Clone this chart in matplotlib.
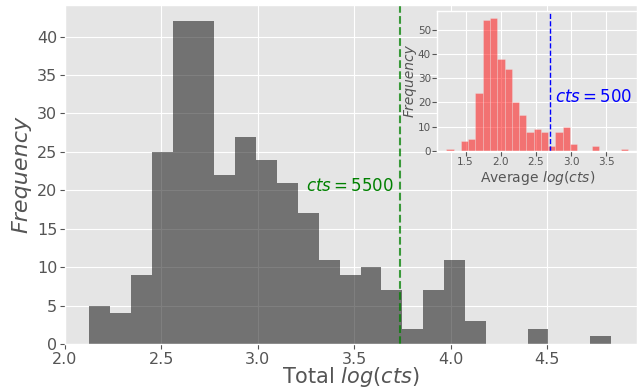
import matplotlib
matplotlib.use("Agg")
import matplotlib.pyplot as plt
import numpy as np

# total log(cts) histogram, 25 equal bins
total_lo, total_hi = 2.126, 4.833
total_counts = [5, 4, 9, 25, 42, 42, 22, 27, 24, 21, 17, 11, 9, 10, 7,
                2, 7, 11, 3, 0, 0, 2, 0, 0, 1]

# average log(cts) histogram, 25 equal bins
avg_lo, avg_hi = 1.227, 3.813
avg_counts = [1, 0, 4, 5, 24, 54, 55, 38, 34, 20, 15, 8, 9, 8, 2,
              8, 10, 3, 0, 0, 2, 0, 0, 0, 1]

total_cut = 5500
avg_cut = 500


def draw_hist(ax, lo, hi, counts, color, lw):
    edges = np.linspace(lo, hi, len(counts) + 1)
    ax.hist(edges[:-1], bins=edges, weights=counts, color=color, alpha=0.5,
            edgecolor='#EEEEEE', linewidth=lw)


plt.style.use('ggplot')
fig = plt.figure(figsize=(6.43, 3.91), dpi=100)

ax = fig.add_axes([0.101, 0.120, 0.890, 0.867])
draw_hist(ax, total_lo, total_hi, total_counts, 'k', 0)
ax.set_xlim(left=2.0)
ax.axvline(np.log10(total_cut), color='g', ls='--', alpha=0.75)
ax.text(3.249, 20.6, r'$cts = %d$' % total_cut, color='g', fontsize=12, va='center')
ax.set_xlabel(r'Total $log(cts)$', fontsize=15, labelpad=-1)
ax.set_ylabel('Frequency', fontsize=16, fontstyle='italic')
ax.tick_params(labelsize=11.5, pad=2)

ins = fig.add_axes([0.680, 0.614, 0.311, 0.358])
draw_hist(ins, avg_lo, avg_hi, avg_counts, 'r', 0.4)
ins.axvline(np.log10(avg_cut), color='b', ls='--', lw=1)
ins.text(2.775, 22.4, r'$cts = %d$' % avg_cut, color='b', fontsize=12, va='center')
ins.set_xlabel(r'Average $log(cts)$', fontsize=10, labelpad=1)
ins.set_ylabel('Frequency', fontsize=10, fontstyle='italic', labelpad=1)
ins.tick_params(labelsize=7.5, pad=1)

fig.savefig('out.png', dpi=100)
